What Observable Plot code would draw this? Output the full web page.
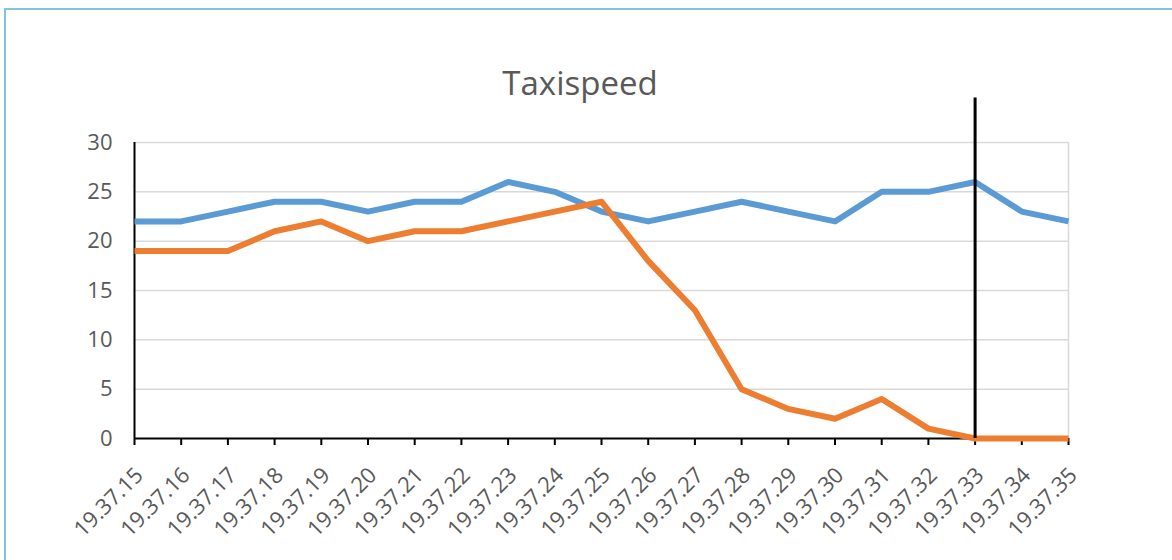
<!DOCTYPE html>
<html>
<head>
<meta charset="utf-8">
<script src="https://cdn.jsdelivr.net/npm/d3@7"></script>
<script src="https://cdn.jsdelivr.net/npm/@observablehq/plot@0.6"></script>
<style>
  html, body { margin: 0; padding: 0; background: #fff; }
  #wrap { position: relative; width: 1172px; height: 560px; overflow: hidden; font-family: "Open Sans", sans-serif; }
  #frame { position: absolute; left: 4px; top: 8px; width: 1300px; height: 700px; border-left: 2px solid #7fc4da; border-top: 2px solid #7fc4da; }
  #title { position: absolute; left: 0; top: 66px; width: 1160px; text-align: center; font-size: 33px; line-height: 33px; color: #595959; }
  #chart { position: absolute; left: 0; top: 0; }
</style>
</head>
<body>
<div id="wrap">
  <div id="frame"></div>
  <div id="title">Taxispeed</div>
  <div id="chart"></div>
</div>
<script>
const times = ["19.37.15","19.37.16","19.37.17","19.37.18","19.37.19","19.37.20","19.37.21",
  "19.37.22","19.37.23","19.37.24","19.37.25","19.37.26","19.37.27","19.37.28",
  "19.37.29","19.37.30","19.37.31","19.37.32","19.37.33","19.37.34","19.37.35"];
const blueSpeed = [22,22,23,24,24,23,24,24,26,25,23,22,23,24,23,22,25,25,26,23,22];
const orangeSpeed = [19,19,19,21,22,20,21,21,22,23,24,18,13,5,3,2,4,1,0,0,0];
const yTicks = [0,5,10,15,20,25,30];
const markerTime = "19.37.33";
const markerTop = 34.5;

const rows = times.map((t, i) => ({time: t, blue: blueSpeed[i], orange: orangeSpeed[i]}));

const chart = Plot.plot({
  width: 1172,
  height: 560,
  marginLeft: 134,
  marginRight: 104,
  marginTop: 142,
  marginBottom: 122,
  x: {type: "point", domain: times, padding: 0, round: false},
  y: {domain: [0, 30]},
  style: {fontFamily: "Open Sans, sans-serif", fontSize: "22px", color: "#595959", overflow: "visible", background: "transparent"},
  marks: [
    Plot.gridY(yTicks.filter(d => d > 0), {stroke: "#d9d9d9", strokeOpacity: 1, strokeWidth: 1.5}),
    Plot.ruleX([times[times.length - 1]], {y1: 0, y2: 30, stroke: "#d9d9d9", strokeWidth: 1.5}),
    Plot.axisY({ticks: yTicks, tickSize: 0, tickPadding: 22, fill: "#595959", label: null}),
    Plot.axisX({tickSize: 7, text: null, stroke: "black", strokeWidth: 2, label: null}),
    Plot.axisX({tickSize: 0, tickRotate: -45, fill: "#595959", label: null, tickPadding: 33, dx: 5}),
    Plot.ruleY([0], {stroke: "black", strokeWidth: 2}),
    Plot.ruleX([times[0]], {y1: 0, y2: 30, stroke: "black", strokeWidth: 2}),
    Plot.line(rows, {x: "time", y: "blue", stroke: "#5b9bd5", strokeWidth: 6, strokeLinecap: "butt"}),
    Plot.line(rows, {x: "time", y: "orange", stroke: "#ed7d31", strokeWidth: 6, strokeLinecap: "butt"}),
    Plot.ruleX([markerTime], {y1: 0, y2: markerTop, stroke: "black", strokeWidth: 3})
  ]
});
document.getElementById("chart").appendChild(chart);
</script>
</body>
</html>
